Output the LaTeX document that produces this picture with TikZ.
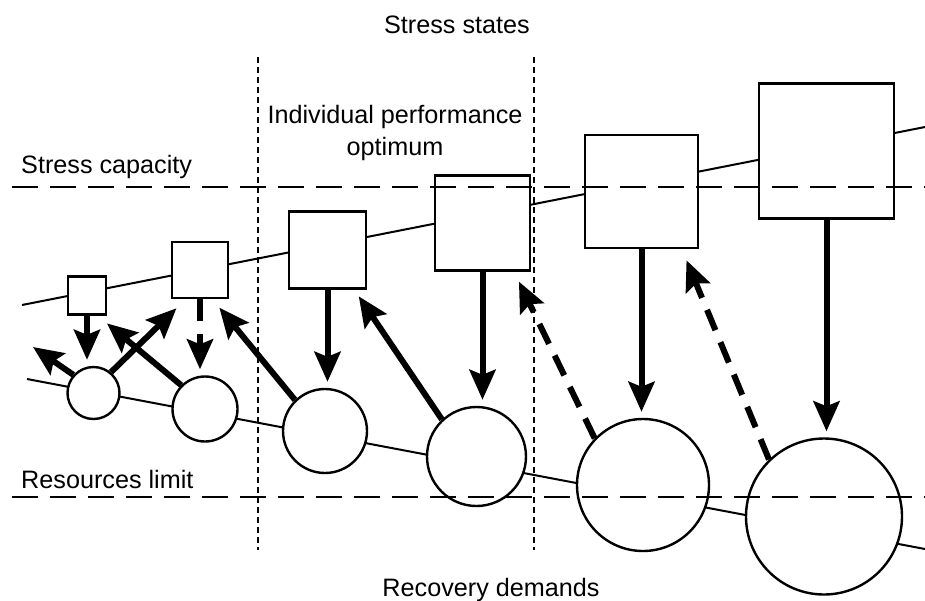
\documentclass[tikz,border=0pt]{standalone}
\usepackage{fontspec}
\setmainfont{Liberation Sans}
\usetikzlibrary{arrows.meta}
\newcommand{\boxw}{2.4pt}
\newcommand{\shaftw}{6pt}
\newcommand{\gapw}{6pt}
\tikzset{
  stressbox/.style={draw, fill=white, line width=\boxw, inner sep=0pt, minimum size=#1},
  demandball/.style={draw, fill=white, circle, line width=\boxw, inner sep=0pt, minimum size=#1},
  push/.style={line width=\shaftw, -{Stealth[length=30pt,width=26pt,inset=5pt]}},
  pushdash/.style={push, dash pattern=on 22pt off 13pt},
  drop/.style={shorten >=\gapw},
  limitline/.style={line width=2.2pt, dash pattern=on 26pt off 12pt},
  zoneline/.style={line width=1.4pt, dash pattern=on 6pt off 4pt},
  trend/.style={line width=2pt},
  txt/.style={font=\fontsize{25.2}{32}\selectfont, inner sep=0pt}
}

\begin{document}
\begin{tikzpicture}[x=1pt,y=-1pt]
  \useasboundingbox (0,0) rectangle (925,600);

  %% zone of the individual optimum
  \coordinate (zoneLt) at (258,57);
  \coordinate (zoneLb) at (258,550);
  \coordinate (zoneRt) at (534,57);
  \coordinate (zoneRb) at (534,550);
  \draw[zoneline] (zoneLt) -- (zoneLb);
  \draw[zoneline] (zoneRt) -- (zoneRb);

  %% trend lines behind the boxes and balls
  \coordinate (stressL) at (22,305);
  \coordinate (stressR) at (925,127);
  \coordinate (recovL)  at (27,379);
  \coordinate (recovR)  at (925,549);
  \draw[trend] (stressL) -- (stressR);
  \draw[trend] (recovL) -- (recovR);

  \node (s1) [stressbox=38pt]  at (87,295.5)  {};
  \node (s2) [stressbox=56pt]  at (200,270)   {};
  \node (s3) [stressbox=77pt]  at (327.5,250) {};
  \node (s4) [stressbox=95pt]  at (482.5,223) {};
  \node (s5) [stressbox=113pt] at (641.5,191.5) {};
  \node (s6) [stressbox=135pt] at (826.5,151) {};

  \node (c1) [demandball=52pt]  at (93.5,393)   {};
  \node (c2) [demandball=65pt]  at (205,409)    {};
  \node (c3) [demandball=84pt]  at (325,431)    {};
  \node (c4) [demandball=99pt]  at (476.5,456.5) {};
  \node (c5) [demandball=132pt] at (643,485)    {};
  \node (c6) [demandball=156pt] at (824,516.5)  {};

  %% capacity and limit
  \coordinate (capL) at (12,187);
  \coordinate (capR) at (925,187);
  \coordinate (limL) at (12,497);
  \coordinate (limR) at (925,497);
  \draw[limitline] (capL) -- (capR);
  \draw[limitline] (limL) -- (limR);

  %% stress -> recovery
  \draw[push,drop]     (s1.south) -- (s1.south |- c1.north);
  \draw[pushdash,drop] (s2.south) -- (s2.south |- c2.north);
  \draw[push,drop]     (s3.south) -- (s3.south |- c3.north);
  \draw[push,drop]     (s4.south) -- (s4.south |- c4.north);
  \draw[push,drop]     (s5.south) -- (s5.south |- c5.north);
  \draw[push,drop]     (s6.south) -- (s6.south |- c6.north);

  %% recovery -> stress
  \coordinate (away) at (33,347);
  \draw[push] (c1.138) -- (away);
  \draw[push,shorten >=13pt]     (c1.50)  -- (s2.-116);
  \draw[push,shorten >=12pt]     (c2.135) -- (s1.-62);
  \draw[push,shorten >=11pt]     (c3.134) -- (s2.-67);
  \draw[push,shorten >=8pt]      (c4.133) -- (s3.-56);
  \draw[pushdash,shorten >=11pt] (c5.136) -- (s4.-57);
  \draw[pushdash,shorten >=12pt] (c6.134) -- (s5.-55);

  \node (title)  [txt,anchor=base]       at (457,33)  {Stress states};
  \node (optim)  [txt,anchor=base,align=center] at (395,155) {Individual performance\\optimum};
  \node (caplbl) [txt,anchor=base west]  at (21,173)  {Stress capacity};
  \node (limlbl) [txt,anchor=base west]  at (21,488)  {Resources limit};
  \node (foot)   [txt,anchor=base]       at (491,596) {Recovery demands};
\end{tikzpicture}
\end{document}
